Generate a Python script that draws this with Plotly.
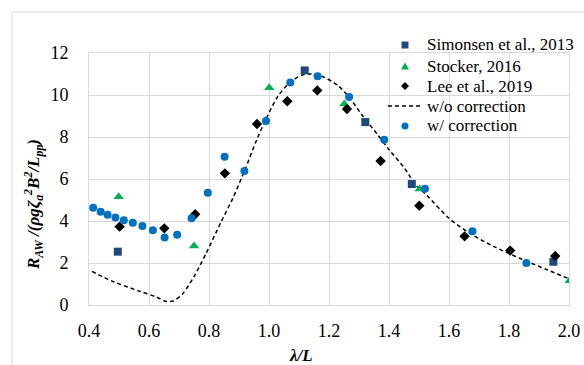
import plotly.graph_objects as go

# --- data ---
sim_x = [0.496, 1.119, 1.321, 1.476, 1.948]
sim_y = [2.54, 11.17, 8.71, 5.76, 2.06]

sto_x = [0.499, 0.750, 1.001, 1.251, 1.502, 2.002]
sto_y = [5.16, 2.81, 10.35, 9.57, 5.52, 1.16]

lee_x = [0.502, 0.651, 0.754, 0.853, 0.960, 1.061, 1.161, 1.260, 1.372, 1.501, 1.652, 1.804, 1.954]
lee_y = [3.73, 3.65, 4.32, 6.27, 8.62, 9.70, 10.22, 9.33, 6.86, 4.73, 3.27, 2.59, 2.33]

wo_x = [0.41, 0.48, 0.57, 0.625, 0.655, 0.68, 0.71, 0.75, 0.79, 0.84, 0.88, 0.92, 0.96, 0.99,
        1.03, 1.07, 1.11, 1.14, 1.18, 1.23, 1.27, 1.31, 1.36, 1.40, 1.45, 1.49, 1.525, 1.60,
        1.67, 1.75, 1.84, 1.93, 2.0]
wo_y = [1.60, 1.12, 0.65, 0.38, 0.18, 0.19, 0.50, 1.35, 2.45, 3.95, 5.10, 6.45, 7.90, 8.85,
        9.95, 10.60, 10.95, 11.00, 10.87, 10.45, 9.84, 9.05, 8.15, 7.40, 6.55, 5.70, 5.24, 4.13,
        3.41, 2.78, 2.20, 1.66, 1.25]

w_x = [0.414, 0.439, 0.462, 0.488, 0.516, 0.546, 0.578, 0.613, 0.652, 0.694, 0.742, 0.796,
       0.852, 0.918, 0.990, 1.071, 1.162, 1.267, 1.384, 1.520, 1.678, 1.858]
w_y = [4.63, 4.44, 4.30, 4.17, 4.03, 3.92, 3.76, 3.56, 3.21, 3.35, 4.13, 5.35,
       7.06, 6.38, 8.76, 10.59, 10.89, 9.90, 7.87, 5.54, 3.51, 2.00]

x_ticks = [0.4, 0.6, 0.8, 1.0, 1.2, 1.4, 1.6, 1.8, 2.0]
y_ticks = [0, 2, 4, 6, 8, 10, 12]

series_names = ["Simonsen et al., 2013", "Stocker, 2016", "Lee et al., 2019",
                "w/o correction", "w/ correction"]

FONT = "Liberation Serif"
GRID = "#d9d9d9"
C_SIM, C_STO, C_LEE, C_W = "#1f497d", "#00b050", "black", "#0070c0"

fig = go.Figure()
fig.add_trace(go.Scatter(x=wo_x, y=wo_y, mode="lines", name=series_names[3],
                         line=dict(color="black", width=1.5, dash="4px,3px", shape="spline", smoothing=0.8)))
fig.add_trace(go.Scatter(x=sim_x, y=sim_y, mode="markers", name=series_names[0],
                         marker=dict(symbol="square", size=8, color=C_SIM)))
fig.add_trace(go.Scatter(x=sto_x, y=sto_y, mode="markers", name=series_names[1],
                         marker=dict(symbol="triangle-up", size=9, color=C_STO)))
fig.add_trace(go.Scatter(x=lee_x, y=lee_y, mode="markers", name=series_names[2],
                         marker=dict(symbol="diamond", size=8, color=C_LEE)))
fig.add_trace(go.Scatter(x=w_x, y=w_y, mode="markers", name=series_names[4],
                         marker=dict(symbol="circle", size=8, color=C_W)))

L, R, T, B = 89, 569, 53, 305
W, H = 584, 365
pw, ph = R - L, B - T

def px_x(p):
    return (p - L) / pw

def px_y(p):
    return (B - p) / ph

# legend drawn by hand (Excel-like compact rows)
leg_mx, leg_tx = 405, 425
leg_rows = [45, 66, 86, 106, 126]
shapes = [dict(type="rect", xref="paper", yref="paper",
               x0=px_x(12), y0=px_y(400), x1=px_x(620), y1=px_y(12),
               line=dict(color=GRID, width=1), layer="below")]
annotations = []

def pix_shape(kind, cx, cy, color, **kw):
    d = dict(type=kind, xref="paper", yref="paper", xsizemode="pixel", ysizemode="pixel",
             xanchor=px_x(cx), yanchor=px_y(cy), fillcolor=color,
             line=dict(color=color, width=0))
    d.update(kw)
    return d

shapes.append(pix_shape("rect", leg_mx, leg_rows[0], C_SIM, x0=-3.5, x1=3.5, y0=-3.5, y1=3.5))
shapes.append(pix_shape("path", leg_mx, leg_rows[1], C_STO, path="M -4,-3.5 L 4,-3.5 L 0,3.5 Z"))
shapes.append(pix_shape("path", leg_mx, leg_rows[2], C_LEE, path="M 0,-4 L 4,0 L 0,4 L -4,0 Z"))
shapes.append(dict(type="line", xref="paper", yref="paper",
                   x0=px_x(388), x1=px_x(420), y0=px_y(leg_rows[3]), y1=px_y(leg_rows[3]),
                   line=dict(color="black", width=1.5, dash="4px,3px")))
shapes.append(pix_shape("circle", leg_mx, leg_rows[4], C_W, x0=-3.5, x1=3.5, y0=-3.5, y1=3.5))

for name, ry in zip(series_names, leg_rows):
    annotations.append(dict(text=name, xref="paper", yref="paper", x=px_x(leg_tx), y=px_y(ry),
                            xanchor="left", yanchor="middle", showarrow=False,
                            font=dict(family=FONT, size=17, color="black")))

annotations.append(dict(text="<b><i>λ/L</i></b>", xref="paper", yref="paper",
                        x=px_x(301), y=px_y(355), xanchor="center", yanchor="middle",
                        showarrow=False, font=dict(family=FONT, size=17)))
annotations.append(dict(text="<b><i>R<sub>AW</sub> /(ρgζ<sub>a</sub><sup>2</sup>B<sup>2</sup>/L<sub>pp</sub>)</i></b>",
                        xref="paper", yref="paper", x=px_x(33), y=px_y(205), textangle=-90,
                        xanchor="center", yanchor="middle", showarrow=False,
                        font=dict(family=FONT, size=17)))

fig.update_layout(
    template="none",
    width=W, height=H,
    margin=dict(l=L, r=W - R, t=T, b=H - B),
    paper_bgcolor="white", plot_bgcolor="white",
    font=dict(family=FONT, size=17, color="black"),
    showlegend=False,
    xaxis=dict(range=[0.4, 2.0], tickvals=x_ticks, ticktext=[f"{v:.1f}" for v in x_ticks],
               tickfont=dict(family=FONT, size=18, color="black"),
               showgrid=True, gridcolor=GRID, gridwidth=1, zeroline=False,
               showline=True, linecolor=GRID, mirror=True, ticks="", ticklabelstandoff=9),
    yaxis=dict(range=[0, 12], tickvals=y_ticks, ticktext=[str(v) for v in y_ticks],
               tickfont=dict(family=FONT, size=18, color="black"),
               showgrid=True, gridcolor=GRID, gridwidth=1, zeroline=False,
               showline=True, linecolor=GRID, mirror=True, ticks="", ticklabelstandoff=16),
    shapes=shapes,
    annotations=annotations,
)

fig.write_html("out.html")
